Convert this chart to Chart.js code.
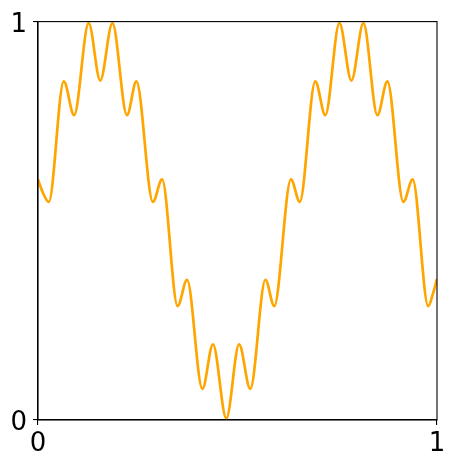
<!DOCTYPE html>
<html>
<head>
<meta charset="utf-8">
<script src="https://cdn.jsdelivr.net/npm/chart.js@4"></script>
<style>
  html, body { margin: 0; padding: 0; background: #fff; }
  #wrap { width: 456px; height: 468px; }
</style>
</head>
<body>
<div id="wrap"><canvas id="c" width="456" height="468"></canvas></div>
<script>
// x positions (axis fraction)
const xValues = [0, 0.012, 0.027, 0.0646, 0.0905, 0.127, 0.156, 0.1865, 0.223, 0.2466, 0.288, 0.311,
  0.35, 0.3735, 0.412, 0.4385, 0.472, 0.504, 0.532, 0.570, 0.592, 0.634, 0.656, 0.695, 0.720,
  0.7555, 0.7855, 0.8155, 0.8506, 0.8756, 0.9157, 0.939, 0.978, 0.991, 1.0];
// y values
const yValues = [0.604, 0.571, 0.5475, 0.85, 0.765, 0.996, 0.852, 0.996, 0.765, 0.85, 0.5475, 0.604,
  0.286, 0.352, 0.078, 0.19, 0.004, 0.19, 0.078, 0.352, 0.286, 0.604, 0.5475, 0.85, 0.765,
  0.996, 0.852, 0.996, 0.765, 0.85, 0.5475, 0.604, 0.286, 0.321, 0.354];
const xTickLabels = ['0', '1'];
const yTickLabels = ['0', '1'];

const points = xValues.map((x, i) => ({ x: x, y: yValues[i] }));

const frame = {
  id: 'frame',
  afterDatasetsDraw(chart) {
    const a = chart.chartArea, ctx = chart.ctx;
    ctx.save();
    ctx.strokeStyle = '#000';
    ctx.lineWidth = 1.1;
    ctx.strokeRect(a.left, a.top, a.right - a.left, a.bottom - a.top);
    ctx.restore();
  }
};

const font = { family: 'DejaVu Sans', size: 26 };

new Chart(document.getElementById('c'), {
  type: 'line',
  data: {
    datasets: [{
      data: points,
      borderColor: '#FFA500',
      borderWidth: 2.7,
      pointRadius: 0,
      fill: false,
      cubicInterpolationMode: 'monotone'
    }]
  },
  options: {
    responsive: false,
    animation: false,
    devicePixelRatio: 1,
    layout: { padding: { top: 20, right: 19, left: 0, bottom: 0 } },
    plugins: { legend: { display: false }, tooltip: { enabled: false } },
    scales: {
      x: {
        type: 'linear', min: 0, max: 1,
        afterFit(s) { s.height = 48; },
        afterBuildTicks(s) { s.ticks = [{ value: 0 }, { value: 1 }]; },
        ticks: {
          font: font, color: '#000', padding: 4, maxRotation: 0,
          callback: (v) => xTickLabels[Math.round(v)]
        },
        grid: { drawOnChartArea: false, drawTicks: true, tickLength: 5, color: '#000', lineWidth: 1.1 },
        border: { display: true, color: '#000', width: 1.1 }
      },
      y: {
        type: 'linear', min: 0, max: 1,
        afterFit(s) { s.width = 38; },
        afterBuildTicks(s) { s.ticks = [{ value: 0 }, { value: 1 }]; },
        ticks: {
          font: font, color: '#000', padding: 6, labelOffset: 3.5,
          callback: (v) => yTickLabels[Math.round(v)]
        },
        grid: { drawOnChartArea: false, drawTicks: true, tickLength: 5, color: '#000', lineWidth: 1.1 },
        border: { display: true, color: '#000', width: 1.1 }
      }
    }
  },
  plugins: [frame]
});
</script>
</body>
</html>
